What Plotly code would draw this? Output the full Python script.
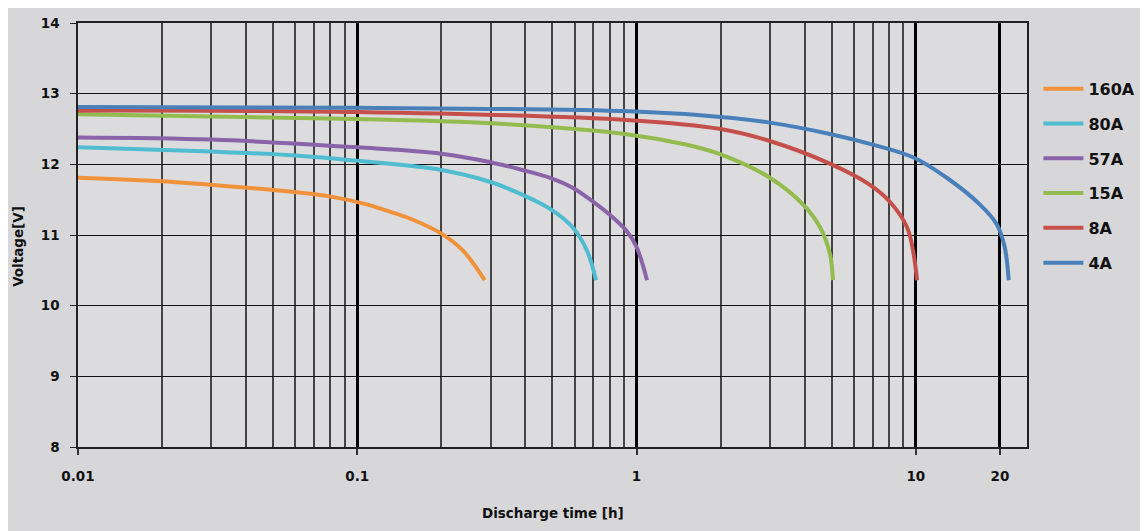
import plotly.graph_objects as go

# ---- data ----
labels = ["160A", "80A", "57A", "15A", "8A", "4A"]
colors = ["#F0923B", "#4FBCD0", "#8A63A8", "#93BB4E", "#C5504B", "#4A80BA"]

t_160 = [0.01, 0.02, 0.03, 0.049, 0.0786, 0.109, 0.124, 0.155, 0.2, 0.239, 0.286]
v_160 = [11.81, 11.76, 11.71, 11.64, 11.55, 11.43, 11.36, 11.23, 11.02, 10.78, 10.36]

t_80 = [0.01, 0.03, 0.06, 0.1, 0.2, 0.3, 0.39, 0.49, 0.59, 0.664, 0.716]
v_80 = [12.24, 12.18, 12.125, 12.05, 11.92, 11.75, 11.57, 11.37, 11.11, 10.78, 10.36]

t_57 = [0.01, 0.03, 0.1, 0.2, 0.3, 0.39, 0.49, 0.59, 0.70, 0.80, 0.92, 1.0, 1.09]
v_57 = [12.38, 12.35, 12.24, 12.15, 12.03, 11.92, 11.81, 11.67, 11.47, 11.29, 11.06, 10.83, 10.36]

t_15 = [0.01, 0.1, 0.3, 0.947, 1.5, 2.0, 3.0, 3.95, 4.54, 4.92, 5.05]
v_15 = [12.71, 12.64, 12.58, 12.42, 12.28, 12.14, 11.81, 11.43, 11.11, 10.74, 10.36]

t_8 = [0.01, 0.1, 0.947, 2.0, 3.0, 4.92, 6.85, 8.07, 9.3, 9.77, 10.1]
v_8 = [12.76, 12.74, 12.625, 12.5, 12.33, 12.01, 11.71, 11.47, 11.11, 10.78, 10.36]

t_4 = [0.01, 0.1, 0.947, 2.0, 3.0, 4.92, 6.85, 9.77, 12.9, 16.97, 19.5, 20.8, 21.5]
v_4 = [12.81, 12.80, 12.75, 12.67, 12.59, 12.43, 12.29, 12.10, 11.81, 11.43, 11.15, 10.83, 10.36]

series_t = [t_160, t_80, t_57, t_15, t_8, t_4]
series_v = [v_160, v_80, v_57, v_15, v_8, v_4]

x_major = [0.01, 0.1, 1, 10, 20]
x_major_text = ["0.01", "0.1", "1", "10", "20"]
x_minor = [m * d for d in (0.01, 0.1, 1) for m in range(2, 10)]
y_ticks = [8, 9, 10, 11, 12, 13, 14]

x_title = "Discharge time [h]"
y_title = "Voltage[V]"

fig = go.Figure()
for lab, col, tt, vv in zip(labels, colors, series_t, series_v):
    fig.add_trace(go.Scatter(
        x=tt, y=vv, mode="lines", name=lab, legendgroup=lab,
        line=dict(color=col, width=4, shape="spline", smoothing=1.0),
    ))

font_main = dict(family="DejaVu Sans, Verdana, sans-serif", color="#111111", weight="bold")

fig.update_layout(
    width=1148, height=531,
    margin=dict(l=70, r=129, t=7, b=92),
    paper_bgcolor="#d7d7da",
    plot_bgcolor="#dcdcdf",
    font=dict(**font_main, size=13.5),
    legend=dict(
        x=1.012, y=0.885, xanchor="left", yanchor="top",
        font=dict(**font_main, size=16),
        tracegroupgap=11, bgcolor="rgba(0,0,0,0)",
        itemwidth=40,
    ),
    xaxis=dict(
        type="log", range=[-2, 1.398],
        tickvals=x_major, ticktext=x_major_text,
        showgrid=True, gridcolor="#000000", gridwidth=3,
        ticks="outside", ticklen=6, tickwidth=2, tickcolor="#333333",
        ticklabelstandoff=10,
        minor=dict(tickvals=x_minor, showgrid=True, gridcolor="#444444", gridwidth=1.8, ticks=""),
        showline=True, mirror=True, linecolor="#222222", linewidth=1.5,
        zeroline=False,
    ),
    yaxis=dict(
        range=[8, 14], tickvals=y_ticks,
        showgrid=True, gridcolor="#111111", gridwidth=1.3,
        ticks="outside", ticklen=6, tickwidth=1.3, tickcolor="#222222",
        ticklabelstandoff=8,
        showline=True, mirror=True, linecolor="#222222", linewidth=1.5,
        zeroline=False,
    ),
    annotations=[
        dict(text=x_title, xref="paper", yref="paper", x=0.5, y=0,
             xanchor="center", yanchor="middle", yshift=-66, showarrow=False,
             font=dict(**font_main, size=13.5)),
        dict(text=y_title, xref="paper", yref="paper", x=0, y=0.472,
             xanchor="center", yanchor="middle", xshift=-60, textangle=-90,
             showarrow=False, font=dict(**font_main, size=13.5)),
    ],
)

fig.write_html("out.html")
